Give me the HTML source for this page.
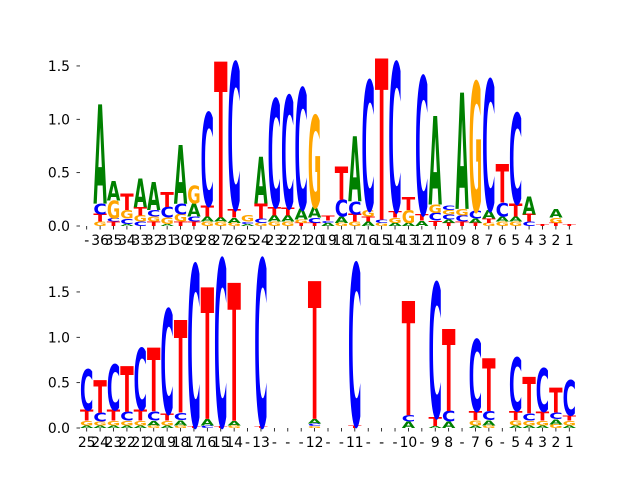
<!DOCTYPE html>
<html><head><meta charset="utf-8"><style>
html,body{margin:0;padding:0;background:#fff;}
svg{display:block;}
text{font-family:"DejaVu Sans","Liberation Sans",sans-serif;}
</style></head><body>
<svg id="chart" width="640" height="480" viewBox="0 0 640 480" xmlns="http://www.w3.org/2000/svg">
<g id="top"></g>
<g id="bot"></g>
</svg>
<script>
const topLabels = ["-","36","35","34","33","32","31","30","29","28","27","26","25","24","23","22","21","20","19","18","17","16","15","14","13","12","11","10","9","8","7","6","5","4","3","2","1"];
const botLabels = ["25","24","23","22","21","20","19","18","17","16","15","14","-","13","-","-","-","12","-","-","11","-","-","-","10","-","9","8","-","7","6","-","5","4","3","2","1"];
const yTickLabels = ["0.0","0.5","1.0","1.5"];
const yTickValues = [0,0.5,1.0,1.5];
// stacks bottom-to-top: [letter, height in bits]
const topStacks = [
 [],
 [["G",.04],["T",.07],["C",.1],["A",.93]],
 [["T",.04],["C",.03],["G",.17],["A",.18]],
 [["A",.02],["C",.05],["G",.08],["T",.15]],
 [["C",.04],["G",.06],["T",.08],["A",.27]],
 [["T",.04],["G",.05],["C",.06],["A",.26]],
 [["A",.02],["G",.06],["C",.1],["T",.14]],
 [["T",.04],["G",.07],["C",.1],["A",.55]],
 [["T",.04],["C",.05],["A",.12],["G",.17]],
 [["G",.04],["A",.05],["T",.1],["C",.87]],
 [["G",.04],["A",.04],["T",1.46]],
 [["G",.03],["A",.05],["T",.08],["C",1.37]],
 [["A",.02],["C",.02],["G",.06]],
 [["G",.03],["C",.04],["T",.14],["A",.44]],
 [["G",.04],["A",.06],["T",.08],["C",1.01]],
 [["G",.04],["A",.06],["T",.07],["C",1.05]],
 [["T",.03],["G",.03],["A",.1],["C",1.13]],
 [["T",.03],["C",.05],["A",.1],["G",.86]],
 [["A",.03],["C",.02],["T",.05]],
 [["G",.03],["A",.06],["C",.16],["T",.31]],
 [["G",.04],["T",.07],["C",.12],["A",.61]],
 [["A",.04],["T",.05],["G",.06],["C",1.21]],
 [["G",.03],["C",.03],["T",1.51]],
 [["A",.03],["G",.05],["T",.06],["C",1.39]],
 [["A",.03],["G",.12],["T",.12]],
 [["A",.05],["T",.06],["C",1.29]],
 [["T",.05],["C",.07],["G",.08],["A",.83]],
 [["T",.03],["A",.03],["C",.05],["G",.04],["C",.04]],
 [["T",.04],["C",.06],["G",.06],["A",1.09]],
 [["T",.03],["A",.04],["C",.07],["G",1.21]],
 [["G",.03],["T",.04],["A",.08],["C",1.22]],
 [["G",.04],["A",.05],["C",.13],["T",.36]],
 [["G",.04],["A",.05],["T",.12],["C",.85]],
 [["C",.04],["T",.07],["A",.17]],
 [["T",.02]],
 [["T",.03],["G",.05],["A",.08]],
 [["T",.015]]
];
const botStacks = [
 [["A",.03],["G",.05],["T",.12],["C",.45]],
 [["A",.03],["G",.04],["C",.1],["T",.36]],
 [["A",.03],["G",.05],["T",.12],["C",.5]],
 [["A",.03],["G",.05],["C",.1],["T",.5]],
 [["A",.03],["G",.05],["T",.12],["C",.68]],
 [["G",.03],["A",.05],["C",.1],["T",.7]],
 [["A",.03],["G",.05],["T",.08],["C",1.15]],
 [["G",.03],["A",.06],["C",.08],["T",1.02]],
 [["T",.02],["C",1.78]],
 [["C",.03],["A",.07],["T",1.45]],
 [["T",.02],["C",1.84]],
 [["G",.03],["A",.05],["T",1.52]],
 [],
 [["T",.02],["C",1.84]],
 [],[],[],
 [["G",.02],["C",.03],["A",.05],["T",1.52]],
 [],[],
 [["T",.03],["C",1.78]],
 [],[],[],
 [["A",.07],["C",.07],["T",1.26]],
 [],
 [["A",.02],["T",.1],["C",1.48]],
 [["A",.07],["C",.12],["T",.9]],
 [],
 [["A",.03],["G",.06],["T",.1],["C",.79]],
 [["G",.03],["A",.06],["C",.1],["T",.58]],
 [],
 [["A",.03],["G",.06],["T",.1],["C",.59]],
 [["A",.03],["G",.05],["C",.08],["T",.4]],
 [["A",.03],["G",.05],["T",.1],["C",.48]],
 [["G",.04],["A",.06],["C",.07],["T",.27]],
 [["A",.03],["G",.05],["T",.06],["C",.39]]
];
const NS="http://www.w3.org/2000/svg";
const colors={A:"#008000",C:"#0000ff",G:"#ffa500",T:"#ff0000"};
const adv={A:0.774,C:0.734,G:0.821,T:0.682};
const CAP=0.729;
function mk(tag,attrs,parent){const e=document.createElementNS(NS,tag);for(const k in attrs)e.setAttribute(k,attrs[k]);parent.appendChild(e);return e;}
function panel(g,stacks,labels,y0,yScale,name){
  const left=80,right=576,n=labels.length,step=(right-left)/n;
  const xOf=i=>left+(i+0.5)*step;
  const yOf=v=>y0-v*yScale;
  // y ticks
  yTickValues.forEach((v,k)=>{
    const t=mk("line",{x1:76.5,x2:80,y1:yOf(v),y2:yOf(v),stroke:"#000","stroke-width":0.8},g);
    
    
    const l=mk("text",{x:70,y:yOf(v)+5,"text-anchor":"end","font-size":"13.9px",fill:"#000"},g);
    l.textContent=yTickLabels[k];
    
    
  });
  labels.forEach((lab,i)=>{
    const t=mk("line",{x1:xOf(i),x2:xOf(i),y1:y0,y2:y0+3.5,stroke:"#000","stroke-width":0.8},g);
    
    
    const l=mk("text",{x:xOf(i),y:y0+19,"text-anchor":"middle","font-size":"13.9px",fill:"#000"},g);
    l.textContent=lab;
    
    
  });
  const w=step*0.92, fs=100;
  stacks.forEach((st,i)=>{
    let cum=0;
    st.forEach(([ch,h])=>{
      const yb=yOf(cum), yt=yOf(cum+h);
      cum+=h;
      const ph=yb-yt;
      if(ph<=0)return;
      const sx=w/(adv[ch]*fs*0.92), sy=ph/(CAP*fs);
      const t=mk("text",{x:0,y:0,"text-anchor":"middle","font-size":fs,"font-weight":"bold",fill:colors[ch],
        transform:`translate(${xOf(i)},${yb}) scale(${sx},${sy})`},g);
      t.textContent=ch;
      
      
    });
  });
}
panel(document.getElementById("top"),topStacks,topLabels,226,106.7,"top");
panel(document.getElementById("bot"),botStacks,botLabels,428,90.7,"bottom");
</script>
</body></html>
